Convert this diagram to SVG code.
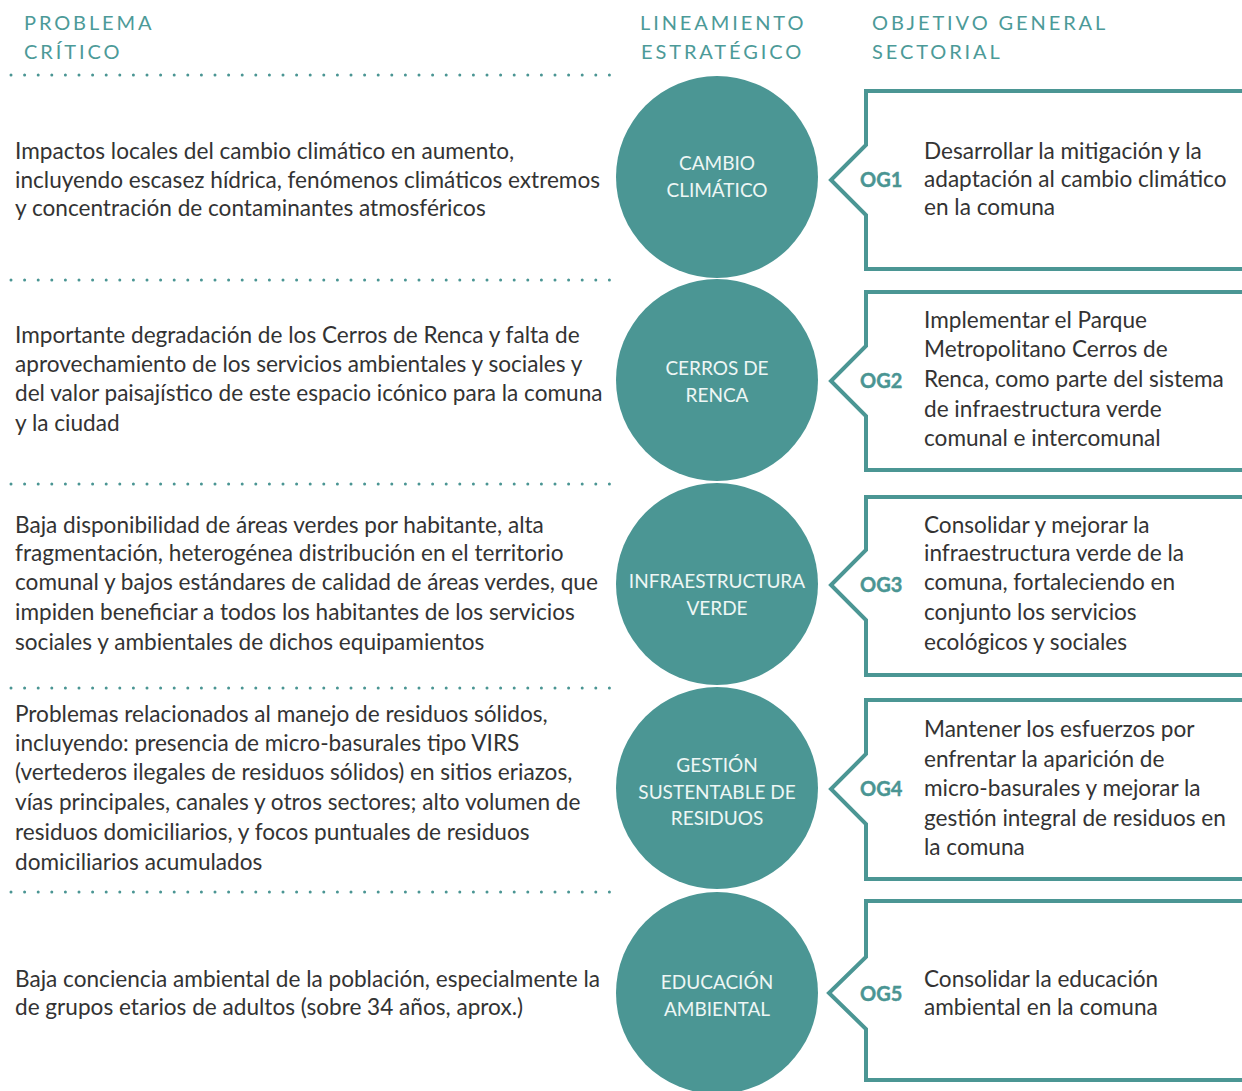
<svg xmlns="http://www.w3.org/2000/svg" width="1242" height="1091" viewBox="0 0 1242 1091">
<style>
.hd{font-family:Lato,"Open Sans",sans-serif;font-size:20px;fill:#4c9a98;letter-spacing:2.9px}
.tx{font-family:Lato,"Open Sans",sans-serif;font-size:22.6px;fill:#333}
.ct{font-family:Lato,"Open Sans",sans-serif;font-size:19px;fill:#eef6f5;text-anchor:middle}
.og{font-family:Lato,"Open Sans",sans-serif;font-size:20px;font-weight:bold;fill:#4a9593;stroke:#4a9593;stroke-width:0.4}
.dot{stroke:#4a9593;stroke-width:3;stroke-linecap:round;stroke-dasharray:0 13.6}
.circ{fill:#4b9694}
.box{fill:#fff;stroke:#4b9694;stroke-width:4}
</style>
<rect width="1242" height="1091" fill="#fff"/>
<g id="headers">
<text class="hd" x="24" y="30">PROBLEMA</text>
<text class="hd" x="24" y="59">CRÍTICO</text>
<text class="hd" x="640" y="30">LINEAMIENTO</text>
<text class="hd" x="641" y="59">ESTRATÉGICO</text>
<text class="hd" x="872" y="30">OBJETIVO GENERAL</text>
<text class="hd" x="872" y="59">SECTORIAL</text>
</g>
<g id="separators">
<line class="dot" x1="11" y1="75" x2="615" y2="75"/>
<line class="dot" x1="11" y1="280" x2="615" y2="280"/>
<line class="dot" x1="11" y1="484" x2="615" y2="484"/>
<line class="dot" x1="11" y1="688" x2="615" y2="688"/>
<line class="dot" x1="11" y1="892" x2="615" y2="892"/>
</g>
<g id="problem1"><text class="tx" x="15" y="159">Impactos locales del cambio climático en aumento,</text><text class="tx" x="15" y="188">incluyendo escasez hídrica, fenómenos climáticos extremos</text><text class="tx" x="15" y="216">y concentración de contaminantes atmosféricos</text></g>
<g id="problem2"><text class="tx" x="15" y="343">Importante degradación de los Cerros de Renca y falta de</text><text class="tx" x="15" y="372">aprovechamiento de los servicios ambientales y sociales y</text><text class="tx" x="15" y="401">del valor paisajístico de este espacio icónico para la comuna</text><text class="tx" x="15" y="431">y la ciudad</text></g>
<g id="problem3"><text class="tx" x="15" y="533">Baja disponibilidad de áreas verdes por habitante, alta</text><text class="tx" x="15" y="561">fragmentación, heterogénea distribución en el territorio</text><text class="tx" x="15" y="590">comunal y bajos estándares de calidad de áreas verdes, que</text><text class="tx" x="15" y="620">impiden beneficiar a todos los habitantes de los servicios</text><text class="tx" x="15" y="650">sociales y ambientales de dichos equipamientos</text></g>
<g id="problem4"><text class="tx" x="15" y="722">Problemas relacionados al manejo de residuos sólidos,</text><text class="tx" x="15" y="751">incluyendo: presencia de micro-basurales tipo VIRS</text><text class="tx" x="15" y="780">(vertederos ilegales de residuos sólidos) en sitios eriazos,</text><text class="tx" x="15" y="810">vías principales, canales y otros sectores; alto volumen de</text><text class="tx" x="15" y="840">residuos domiciliarios, y focos puntuales de residuos</text><text class="tx" x="15" y="870">domiciliarios acumulados</text></g>
<g id="problem5"><text class="tx" x="15" y="987">Baja conciencia ambiental de la población, especialmente la</text><text class="tx" x="15" y="1015">de grupos etarios de adultos (sobre 34 años, aprox.)</text></g>
<g id="line1"><circle class="circ" cx="717" cy="177" r="101"/><text class="ct" x="717" y="170">CAMBIO</text><text class="ct" x="717" y="197">CLIMÁTICO</text></g>
<g id="line2"><circle class="circ" cx="717" cy="380" r="101"/><text class="ct" x="717" y="375">CERROS DE</text><text class="ct" x="717" y="402">RENCA</text></g>
<g id="line3"><circle class="circ" cx="717" cy="584" r="101"/><text class="ct" x="717" y="588">INFRAESTRUCTURA</text><text class="ct" x="717" y="615">VERDE</text></g>
<g id="line4"><circle class="circ" cx="717" cy="788" r="101"/><text class="ct" x="717" y="772">GESTIÓN</text><text class="ct" x="717" y="799">SUSTENTABLE DE</text><text class="ct" x="717" y="825">RESIDUOS</text></g>
<g id="line5"><circle class="circ" cx="717" cy="993" r="101"/><text class="ct" x="717" y="989">EDUCACIÓN</text><text class="ct" x="717" y="1016">AMBIENTAL</text></g>
<g id="og1"><path class="box" d="M866,91 H1244 V269 H866 V215 L831,180 L866,145 Z"/><text class="og" x="860" y="187">OG1</text><text class="tx" x="924" y="159">Desarrollar la mitigación y la</text><text class="tx" x="924" y="187">adaptación al cambio climático</text><text class="tx" x="924" y="215">en la comuna</text></g>
<g id="og2"><path class="box" d="M866,292 H1244 V470 H866 V416 L831,381 L866,346 Z"/><text class="og" x="860" y="388">OG2</text><text class="tx" x="924" y="328">Implementar el Parque</text><text class="tx" x="924" y="357">Metropolitano Cerros de</text><text class="tx" x="924" y="387">Renca, como parte del sistema</text><text class="tx" x="924" y="417">de infraestructura verde</text><text class="tx" x="924" y="446">comunal e intercomunal</text></g>
<g id="og3"><path class="box" d="M866,497 H1244 V675 H866 V620 L831,585 L866,550 Z"/><text class="og" x="860" y="592">OG3</text><text class="tx" x="924" y="533">Consolidar y mejorar la</text><text class="tx" x="924" y="561">infraestructura verde de la</text><text class="tx" x="924" y="590">comuna, fortaleciendo en</text><text class="tx" x="924" y="620">conjunto los servicios</text><text class="tx" x="924" y="650">ecológicos y sociales</text></g>
<g id="og4"><path class="box" d="M866,700 H1244 V879 H866 V824 L831,789 L866,754 Z"/><text class="og" x="860" y="796">OG4</text><text class="tx" x="924" y="737">Mantener los esfuerzos por</text><text class="tx" x="924" y="767">enfrentar la aparición de</text><text class="tx" x="924" y="796">micro-basurales y mejorar la</text><text class="tx" x="924" y="826">gestión integral de residuos en</text><text class="tx" x="924" y="855">la comuna</text></g>
<g id="og5"><path class="box" d="M866,901 H1244 V1080 H866 V1029 L829,993 L866,957 Z"/><text class="og" x="860" y="1001">OG5</text><text class="tx" x="924" y="987">Consolidar la educación</text><text class="tx" x="924" y="1015">ambiental en la comuna</text></g>
</svg>
